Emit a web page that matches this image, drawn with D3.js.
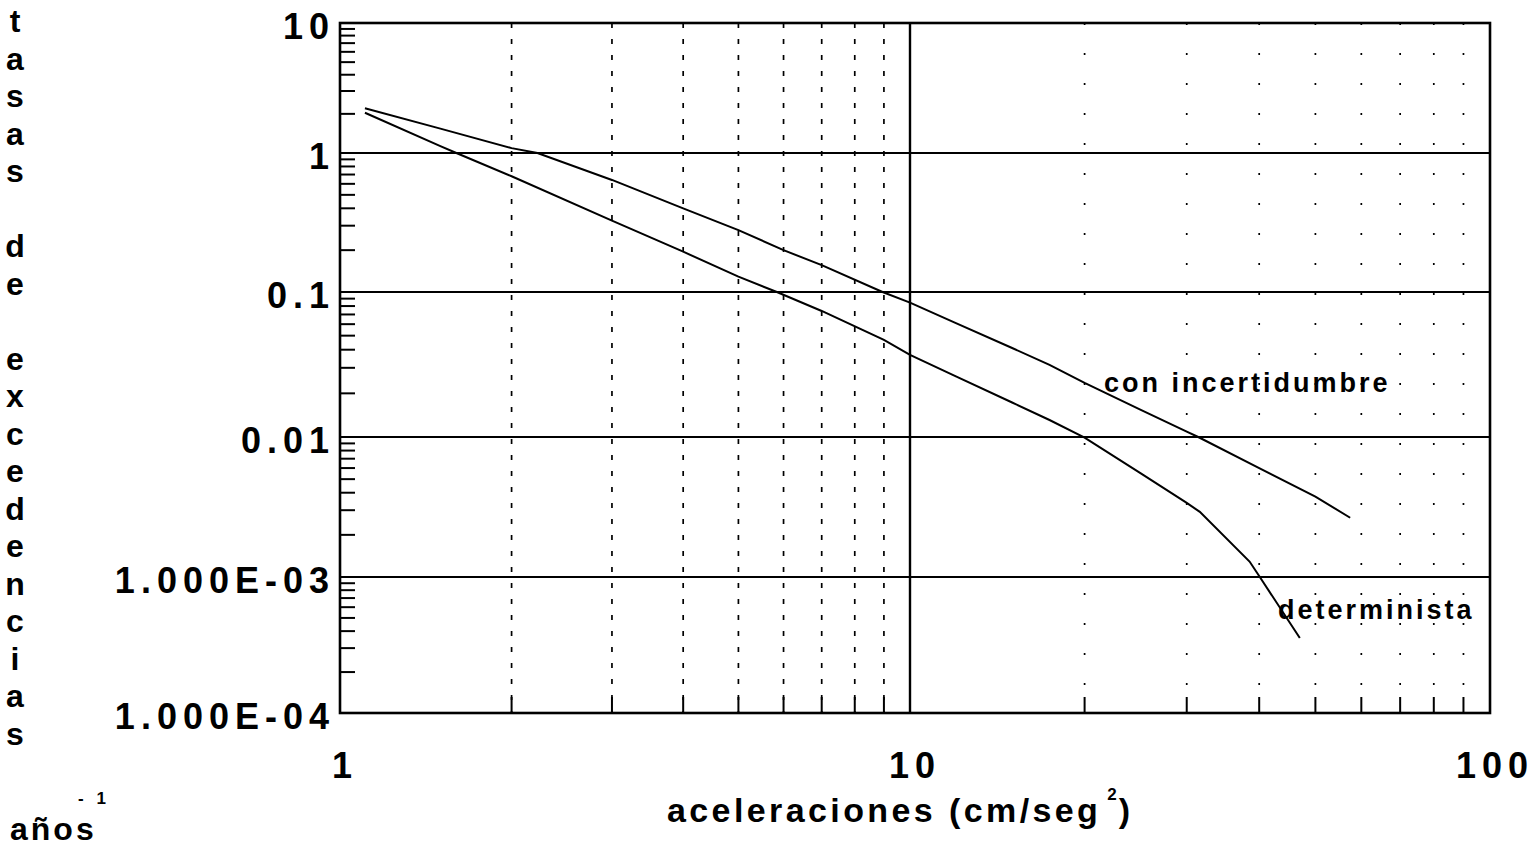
<!DOCTYPE html>
<html>
<head>
<meta charset="utf-8">
<script src="https://cdn.jsdelivr.net/npm/d3@7"></script>
<style>
  body { margin: 0; background: #fff; }
  svg text { font-family: "Liberation Sans", Arial, Helvetica, sans-serif; font-weight: bold; fill: #000; }
</style>
</head>
<body>
<svg id="chart" width="1539" height="850"></svg>
<script>
// Curva con incertidumbre: aceleración (cm/seg²) vs tasa de excedencia (1/año)
const acelIncert = [1.106, 1.5, 2.0, 2.22, 3, 4, 5, 6, 7, 8.95, 10, 12, 15, 17.4, 20, 25, 30, 31.4, 40, 50, 57.4];
const tasaIncert = [2.21, 1.54, 1.09, 1.0, 0.64, 0.40, 0.279, 0.20, 0.156, 0.1, 0.0844, 0.061, 0.0411, 0.0314, 0.0236, 0.0154, 0.0109, 0.01, 0.0060, 0.00375, 0.00265];

// Curva determinista
const acelDet = [1.106, 1.5, 1.6, 2, 3, 4, 5, 5.84, 7, 9, 10, 12, 15, 17.4, 20, 25, 30, 31.6, 38.5, 40.1, 47];
const tasaDet = [2.04, 1.13, 1.0, 0.68, 0.326, 0.195, 0.129, 0.1, 0.074, 0.0467, 0.0368, 0.0262, 0.0173, 0.0131, 0.0099, 0.0055, 0.00338, 0.00292, 0.00129, 0.001, 0.000356];

// Etiquetas de los ejes
const xTickValues = [1, 10, 100];
const xTickLabels = ["1", "10", "100"];
const yTickValues = [10, 1, 0.1, 0.01, 0.001, 0.0001];
const yTickLabels = ["10", "1", "0.1", "0.01", "1.000E-03", "1.000E-04"];
const yTitle = "tasas de excedencias";
const xTitleParts = ["aceleraciones (cm/seg", "2", ")"];
const curveLabels = ["con incertidumbre", "determinista"];

const svg = d3.select("#chart");

// Escalas logarítmicas por décadas
const x = d3.scaleLog().domain([1, 10, 100]).range([340, 910, 1490]);
const y = d3.scaleLog().domain([1e-4, 1e-3, 1e-2, 1e-1, 1, 10]).range([713, 577, 437, 292, 153, 23]);

const [x0, x1] = [x(1), x(100)];
const [yTop, yBot] = [y(10), y(1e-4)];

// Valores intermedios de cada década (2..9)
const minorX = [];
[1, 10].forEach(d => { for (let k = 2; k <= 9; k++) minorX.push(d * k); });
const minorY = [];
[1e-4, 1e-3, 1e-2, 1e-1, 1].forEach(d => { for (let k = 2; k <= 9; k++) minorY.push(d * k); });

const g = svg.append("g");

// Rejilla vertical punteada
g.selectAll("line.vgrid").data(minorX).enter().append("line")
  .attr("x1", d => x(d)).attr("x2", d => x(d))
  .attr("y1", yTop).attr("y2", yBot)
  .attr("stroke", "#000").attr("stroke-width", 1.7)
  .attr("stroke-dasharray", d => d < 10 ? "5,11" : "2,28");

// Rejilla horizontal continua en cada década
g.selectAll("line.hgrid").data(yTickValues.slice(1, 5)).enter().append("line")
  .attr("x1", x0).attr("x2", x1)
  .attr("y1", d => y(d)).attr("y2", d => y(d))
  .attr("stroke", "#000").attr("stroke-width", 2);

// Línea vertical continua en 10
g.append("line")
  .attr("x1", x(10)).attr("x2", x(10)).attr("y1", yTop).attr("y2", yBot)
  .attr("stroke", "#000").attr("stroke-width", 2.4);

// Marcas menores hacia adentro
g.selectAll("line.ytick").data(minorY).enter().append("line")
  .attr("x1", x0).attr("x2", x0 + 15)
  .attr("y1", d => y(d)).attr("y2", d => y(d))
  .attr("stroke", "#000").attr("stroke-width", 2);
g.selectAll("line.xtick").data(minorX).enter().append("line")
  .attr("x1", d => x(d)).attr("x2", d => x(d))
  .attr("y1", yBot).attr("y2", yBot - 16)
  .attr("stroke", "#000").attr("stroke-width", 2);

// Marco
g.append("rect")
  .attr("x", x0).attr("y", yTop).attr("width", x1 - x0).attr("height", yBot - yTop)
  .attr("fill", "none").attr("stroke", "#000").attr("stroke-width", 2.6);

// Curvas
const line = d3.line().x(d => x(d[0])).y(d => y(d[1]));
[[acelIncert, tasaIncert], [acelDet, tasaDet]].forEach(([a, t]) => {
  g.append("path")
    .datum(a.map((v, i) => [v, t[i]]))
    .attr("d", line)
    .attr("fill", "none").attr("stroke", "#000").attr("stroke-width", 2);
});

// Etiquetas de las curvas
g.append("text").attr("x", 1104).attr("y", 392)
  .attr("font-size", 27).attr("letter-spacing", 3).text(curveLabels[0]);
g.append("text").attr("x", 1278).attr("y", 619)
  .attr("font-size", 27).attr("letter-spacing", 3).text(curveLabels[1]);

// Etiquetas del eje Y
const tickLS = 6;
g.selectAll("text.ylab").data(yTickValues).enter().append("text")
  .attr("x", 329 + tickLS).attr("y", d => y(d) + 16)
  .attr("text-anchor", "end").attr("font-size", 36).attr("letter-spacing", tickLS)
  .text((d, i) => yTickLabels[i]);

// Etiquetas del eje X
g.selectAll("text.xlab").data(xTickValues).enter().append("text")
  .attr("x", d => x(d) + tickLS / 2 + 2).attr("y", 778)
  .attr("text-anchor", "middle").attr("font-size", 36).attr("letter-spacing", tickLS)
  .text((d, i) => xTickLabels[i]);

// Título del eje X con exponente en línea
const xt = g.append("text").attr("x", 667).attr("y", 822)
  .attr("font-size", 34).attr("letter-spacing", 3.4);
xt.append("tspan").text(xTitleParts[0]);
xt.append("tspan").attr("dx", 6).attr("dy", -22).attr("font-size", 17).attr("letter-spacing", 0).text(xTitleParts[1]);
xt.append("tspan").attr("dx", 2).attr("dy", 22).text(xTitleParts[2]);

// Título del eje Y, letra por letra en vertical
g.selectAll("text.ytitle").data(yTitle.split("")).enter().append("text")
  .attr("x", 15).attr("y", (d, i) => 22 + 37.5 * i + 10)
  .attr("text-anchor", "middle").attr("font-size", 32)
  .text(d => d === " " ? "" : d);

// Unidades: años^-1
g.append("text").attr("x", 10).attr("y", 840)
  .attr("font-size", 32).attr("letter-spacing", 3).text("años");
g.append("text").attr("x", 78).attr("y", 804)
  .attr("font-size", 17).attr("letter-spacing", 4).text("- 1");
</script>
</body>
</html>
